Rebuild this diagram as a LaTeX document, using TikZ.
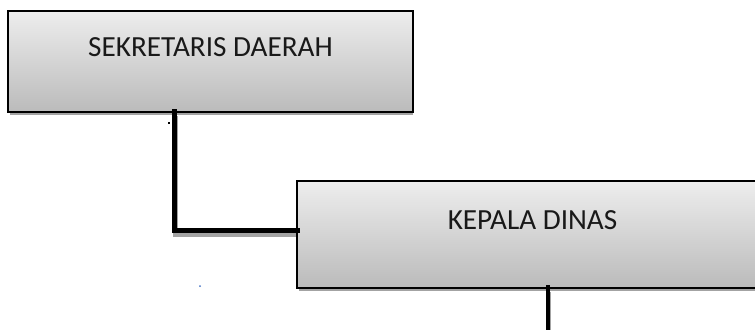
\documentclass[tikz,border=0pt]{standalone}
\usepackage{fontspec}
\setmainfont{Carlito}
\definecolor{topc}{HTML}{EDEDED}
\definecolor{botc}{HTML}{BBBBBB}
\definecolor{shadc}{HTML}{A3A3A3}
\definecolor{dotblue}{HTML}{4472C4}
\tikzset{
  orgbox/.style={line width=1.2pt, rectangle, inner sep=0pt,
    top color=topc, bottom color=botc,
    preaction={fill=shadc, transform canvas={shift={(1,4)}}}},
  boxlabel/.style={anchor=base, inner sep=0pt, text=black!90,
    font=\fontsize{21.9pt}{26pt}\selectfont},
  conn/.style={line width=3.7pt, black, line cap=rect,
    preaction={draw=shadc, line width=3.7pt, transform canvas={shift={(1,4)}}}}
}
\begin{document}
\begin{tikzpicture}[x=0.75pt,y=-0.75pt]
\useasboundingbox (0,0) rectangle (755,329);
\clip (0,0) rectangle (755,329);
% boxes
\node[orgbox, minimum width=302.25pt, minimum height=74.25pt] (b1) at (210.5,61.5) {};
\node[orgbox, minimum width=405pt, minimum height=78.75pt] (b2) at (568,234.5) {};
% connectors
\coordinate (k1) at (174.5,230.5);
\coordinate (e2) at (548,340);
\draw[conn] (b1.south -| k1) -- (k1) -- (k1 -| b2.west);
\draw[conn] (b2.south -| e2) -- (e2);
% box borders (box 2 runs off the right edge)
\draw[line width=1.2pt] (b1.south west) rectangle (b1.north east);
\draw[line width=1.2pt] (b2.north east) -- (b2.north west) -- (b2.south west) -- (b2.south east);
% labels
\node[boxlabel] (t1) at (210.5,56) {SEKRETARIS DAERAH};
\node[boxlabel] (t2) at (532.5,229) {KEPALA DINAS};
% stray dots
\fill[black] (167.5,121.5) rectangle (169.5,123.5);
\fill[dotblue] (200,286) circle (1);
\end{tikzpicture}
\end{document}
